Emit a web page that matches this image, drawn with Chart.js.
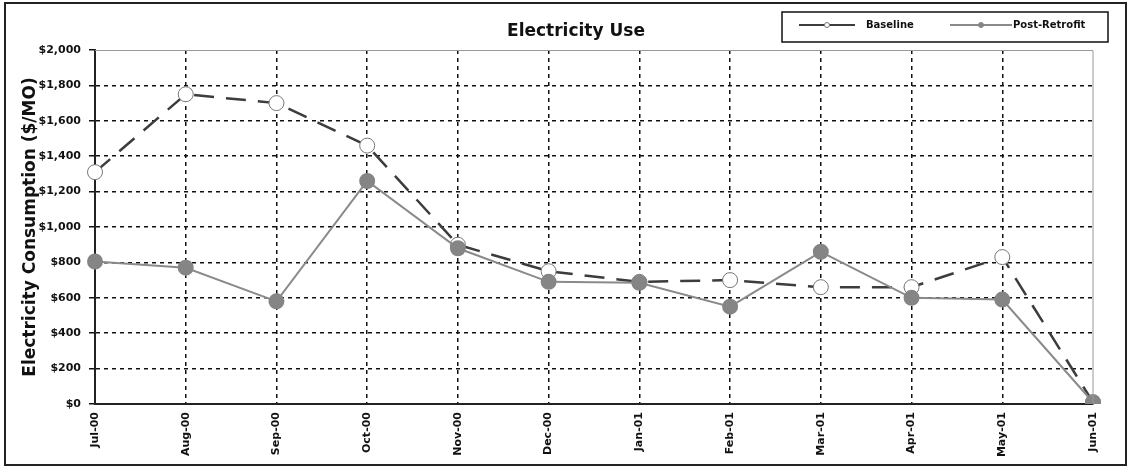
<!DOCTYPE html>
<html lang="en">
<head>
    <meta charset="UTF-8">
    <title>Electricity Use</title>
    <script src="https://cdn.jsdelivr.net/npm/chart.js"></script>
    <style>
        body { margin: 0; background: #fff; }
        #wrap { width: 1130px; height: 468px; }
    </style>
</head>
<body>
    <div id="wrap"><canvas id="myChart"></canvas></div>

    <script>
        const months = ['Jul-00', 'Aug-00', 'Sep-00', 'Oct-00', 'Nov-00', 'Dec-00',
                        'Jan-01', 'Feb-01', 'Mar-01', 'Apr-01', 'May-01', 'Jun-01'];
        const baseline = [1310, 1750, 1700, 1460, 900, 750, 690, 700, 660, 660, 830, 10];
        const postRetrofit = [805, 770, 580, 1260, 880, 690, 685, 550, 860, 600, 590, 10];
        const seriesNames = ['Baseline', 'Post-Retrofit'];

        const FONT = '"DejaVu Sans", Verdana, sans-serif';

        // frame, title, plot border and boxed legend
        const decor = {
            id: 'decor',
            afterDraw(chart) {
                const ctx = chart.ctx;
                const a = chart.chartArea;
                ctx.save();
                ctx.strokeStyle = '#222';
                ctx.lineWidth = 2;
                ctx.strokeRect(5, 3, 1121, 462);

                ctx.strokeStyle = '#999';
                ctx.lineWidth = 1;
                ctx.beginPath();
                ctx.moveTo(a.left, a.top + 0.5);
                ctx.lineTo(a.right, a.top + 0.5);
                ctx.lineTo(a.right, a.bottom);
                ctx.stroke();

                ctx.fillStyle = '#111';
                ctx.font = 'bold 17px ' + FONT;
                ctx.textAlign = 'center';
                ctx.textBaseline = 'middle';
                ctx.fillText('Electricity Use', 576, 32);

                // legend
                ctx.strokeStyle = '#111';
                ctx.lineWidth = 1.5;
                ctx.strokeRect(782, 12, 326, 30);
                const items = [
                    { x0: 799, x1: 855, text: 866 },
                    { x0: 950, x1: 1012, text: 1013 }
                ];
                chart.data.datasets.forEach((ds, i) => {
                    const it = items[i];
                    const y = 25;
                    ctx.strokeStyle = ds.borderColor;
                    ctx.lineWidth = 2;
                    ctx.beginPath();
                    ctx.moveTo(it.x0, y);
                    ctx.lineTo(it.x1, y);
                    ctx.stroke();
                    ctx.beginPath();
                    ctx.arc((it.x0 + it.x1) / 2, y, 2.5, 0, Math.PI * 2);
                    ctx.fillStyle = ds.pointBackgroundColor;
                    ctx.fill();
                    ctx.lineWidth = 1;
                    ctx.strokeStyle = ds.pointBorderColor;
                    ctx.stroke();
                    ctx.fillStyle = '#111';
                    ctx.font = 'bold 10px ' + FONT;
                    ctx.textAlign = 'left';
                    ctx.fillText(ds.label, it.text, y);
                });
                ctx.restore();
            }
        };

        const ctx = document.getElementById('myChart').getContext('2d');
        const myChart = new Chart(ctx, {
            type: 'line',
            data: {
                labels: months,
                datasets: [
                    {
                        label: seriesNames[0],
                        data: baseline,
                        borderColor: '#3c3c3c',
                        borderWidth: 2.5,
                        borderDash: [20, 12],
                        pointRadius: 7.5,
                        pointBackgroundColor: '#ffffff',
                        pointBorderColor: '#777',
                        pointBorderWidth: 1,
                        tension: 0,
                        order: 2
                    },
                    {
                        label: seriesNames[1],
                        data: postRetrofit,
                        borderColor: '#8a8a8a',
                        borderWidth: 2,
                        pointRadius: 7,
                        pointBackgroundColor: '#858585',
                        pointBorderColor: '#858585',
                        tension: 0,
                        order: 1
                    }
                ]
            },
            options: {
                responsive: true,
                maintainAspectRatio: false,
                animation: false,
                layout: { padding: { left: 20, right: 37, top: 50, bottom: 4 } },
                plugins: {
                    legend: { display: false },
                    title: { display: false },
                    tooltip: { enabled: false }
                },
                scales: {
                    x: {
                        offset: false,
                        afterFit(scale) { scale.height = 60; },
                        grid: {
                            color: c => c.index === months.length - 1 ? 'rgba(0,0,0,0)' : '#111',
                            lineWidth: 1.5,
                            drawTicks: false
                        },
                        border: { display: true, color: '#222', width: 2, dash: [4, 4] },
                        ticks: {
                            maxRotation: 90,
                            minRotation: 90,
                            padding: 8,
                            color: '#111',
                            font: { family: FONT, size: 11, weight: 'bold' }
                        }
                    },
                    y: {
                        min: 0,
                        max: 2000,
                        afterFit(scale) { scale.width = 75; },
                        grid: {
                            color: c => c.tick.value === 2000 ? 'rgba(0,0,0,0)' : '#111',
                            lineWidth: 1.5,
                            tickLength: 6,
                            tickColor: '#111'
                        },
                        border: { display: true, color: '#222', width: 2, dash: [4, 4] },
                        ticks: {
                            stepSize: 200,
                            padding: 8,
                            color: '#111',
                            font: { family: FONT, size: 11, weight: 'bold' },
                            callback: v => '$' + v.toLocaleString('en-US')
                        },
                        title: {
                            display: true,
                            text: 'Electricity Consumption ($/MO)',
                            color: '#111',
                            padding: { top: 0, bottom: 0 },
                            font: { family: FONT, size: 17, weight: 'bold' }
                        }
                    }
                }
            },
            plugins: [decor]
        });
    </script>
</body>
</html>
